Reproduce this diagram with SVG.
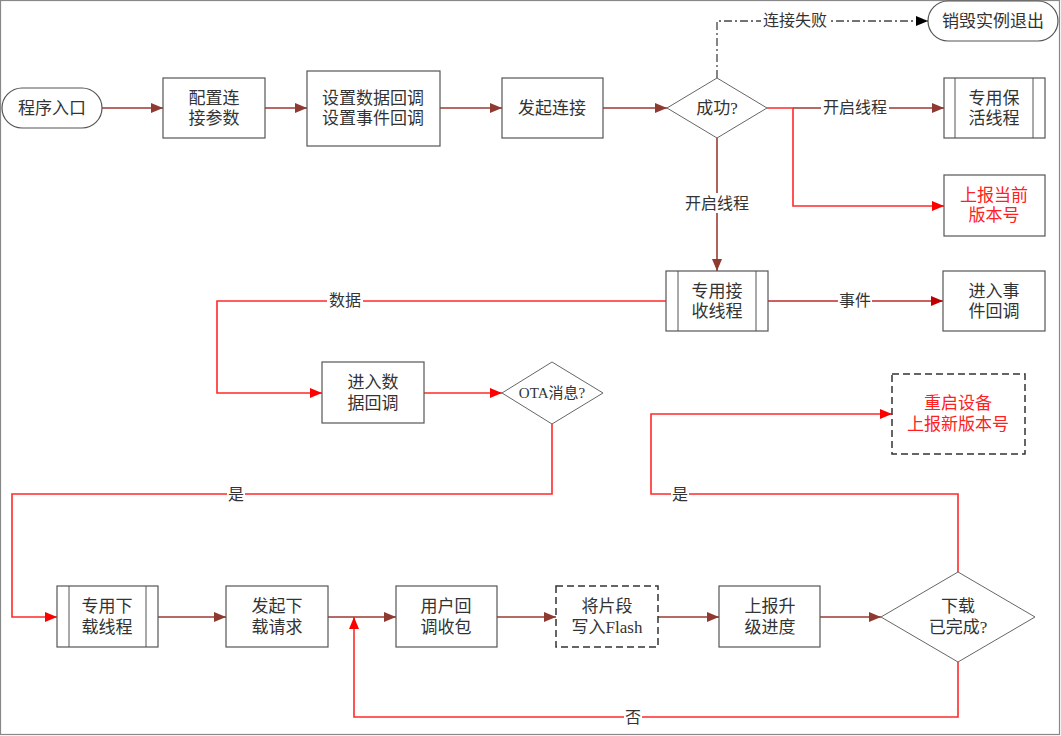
<svg xmlns="http://www.w3.org/2000/svg" width="1061" height="736" viewBox="0 0 1061 736">
<defs>
<style>
.n{fill:#fff;stroke:#555;stroke-width:1.2}
.d{fill:#fff;stroke:#333;stroke-width:1.5;stroke-dasharray:7 4}
.dia{fill:#fff;stroke:#666;stroke-width:1}
.t{font-family:"Liberation Serif","Noto Sans CJK SC",serif;font-size:17px;fill:#333;text-anchor:middle;dominant-baseline:central}
.r{fill:#ff2020}
.lb{font-family:"Liberation Serif","Noto Sans CJK SC",serif;font-size:16px;fill:#333;text-anchor:middle;dominant-baseline:central}
.br{fill:none;stroke:#9b3a33;stroke-width:1.6}
.rd{fill:none;stroke:#ff2a2a;stroke-width:1.6}
.dk{fill:none;stroke:#c0282a;stroke-width:1.6}
.dd{fill:none;stroke:#444;stroke-width:1.3;stroke-dasharray:8 3 2 3}
.bg{fill:#fff}
</style>
<marker id="ab" viewBox="0 0 12 10" refX="12" refY="5" markerWidth="12" markerHeight="10" markerUnits="userSpaceOnUse" orient="auto"><path d="M0,0 L12,5 L0,10 z" fill="#8e3a30"/></marker>
<marker id="ar" viewBox="0 0 12 10" refX="12" refY="5" markerWidth="12" markerHeight="10" markerUnits="userSpaceOnUse" orient="auto"><path d="M0,0 L12,5 L0,10 z" fill="#ff0000"/></marker>
<marker id="ak" viewBox="0 0 12 10" refX="12" refY="5" markerWidth="12" markerHeight="10" markerUnits="userSpaceOnUse" orient="auto"><path d="M0,0 L12,5 L0,10 z" fill="#c00000"/></marker>
<marker id="abk" viewBox="0 0 12 10" refX="12" refY="5" markerWidth="12" markerHeight="10" markerUnits="userSpaceOnUse" orient="auto"><path d="M0,0 L12,5 L0,10 z" fill="#000"/></marker>
</defs>
<rect x="0.5" y="0.5" width="1059" height="734" fill="#fff" stroke="#888" stroke-width="1.2"/>

<g id="connectors">
<path class="br" d="M102,108 H163" marker-end="url(#ab)"/>
<path class="br" d="M265,108 H307" marker-end="url(#ab)"/>
<path class="br" d="M440,108 H502" marker-end="url(#ab)"/>
<path class="br" d="M603,108 H667" marker-end="url(#ab)"/>
<path class="dd" d="M717,78 V21 H928" marker-end="url(#abk)"/>
<path class="br" d="M793,108 H944" marker-end="url(#ab)"/>
<path class="rd" d="M767,108 H793 V206 H944" marker-end="url(#ar)"/>
<path class="br" d="M717,138 V271" marker-end="url(#ab)"/>
<path class="dk" d="M768,301 H943" marker-end="url(#ak)"/>
<path class="rd" d="M666,301 H217 V393 H322" marker-end="url(#ar)"/>
<path class="rd" d="M424,393 H502" marker-end="url(#ar)"/>
<path class="rd" d="M552,424 V494 H12 V617 H57" marker-end="url(#ar)"/>
<path class="br" d="M158,617 H226" marker-end="url(#ab)"/>
<path class="br" d="M328,617 H396" marker-end="url(#ab)"/>
<path class="br" d="M497,617 H556" marker-end="url(#ab)"/>
<path class="br" d="M658,617 H719" marker-end="url(#ab)"/>
<path class="br" d="M820,617 H881" marker-end="url(#ab)"/>
<path class="rd" d="M958,572 V494 H651 V414 H892" marker-end="url(#ar)"/>
<path class="rd" d="M958,662 V717 H354 V617" marker-end="url(#ar)"/>
<rect class="bg" x="761" y="11" width="68" height="20"/>
<text class="lb" x="795" y="20">连接失败</text>
<rect class="bg" x="821" y="98" width="68" height="20"/>
<text class="lb" x="855" y="107">开启线程</text>
<rect class="bg" x="683" y="193" width="68" height="20"/>
<text class="lb" x="717" y="203">开启线程</text>
<rect class="bg" x="838" y="291" width="34" height="20"/>
<text class="lb" x="855" y="300">事件</text>
<rect class="bg" x="327" y="291" width="36" height="20"/>
<text class="lb" x="345" y="300">数据</text>
<rect class="bg" x="227" y="484" width="18" height="20"/>
<text class="lb" x="236" y="494">是</text>
<rect class="bg" x="671" y="484" width="18" height="20"/>
<text class="lb" x="680" y="494">是</text>
<rect class="bg" x="624" y="707" width="18" height="20"/>
<text class="lb" x="633" y="717">否</text>
</g>

<g id="start"><rect class="n" x="2" y="88" width="100" height="40" rx="20"/><text class="t" x="52" y="108">程序入口</text></g>
<g id="config"><rect class="n" x="163" y="78" width="102" height="60"/><text class="t" x="214" y="98">配置连</text><text class="t" x="214" y="118">接参数</text></g>
<g id="setcb"><rect class="n" x="307" y="71" width="133" height="75"/><text class="t" x="373" y="98">设置数据回调</text><text class="t" x="373" y="118">设置事件回调</text></g>
<g id="connect"><rect class="n" x="502" y="78" width="101" height="60"/><text class="t" x="552" y="108">发起连接</text></g>
<g id="success"><path class="dia" d="M667,108 L717,78 L767,108 L717,138 Z"/><text class="t" x="717" y="108">成功?</text></g>
<g id="destroy"><rect class="n" x="928" y="1" width="130" height="40" rx="20"/><text class="t" x="993" y="21">销毁实例退出</text></g>
<g id="keepalive"><rect class="n" x="944" y="78" width="101" height="60"/><line x1="955" y1="78" x2="955" y2="138" stroke="#555"/><line x1="1033" y1="78" x2="1033" y2="138" stroke="#555"/><text class="t" x="994" y="98">专用保</text><text class="t" x="994" y="118">活线程</text></g>
<g id="reportver"><rect class="n" x="944" y="175" width="101" height="61"/><text class="t r" x="994" y="195">上报当前</text><text class="t r" x="994" y="215">版本号</text></g>
<g id="recvthread"><rect class="n" x="666" y="271" width="102" height="60"/><line x1="678" y1="271" x2="678" y2="331" stroke="#555"/><line x1="756" y1="271" x2="756" y2="331" stroke="#555"/><text class="t" x="717" y="291">专用接</text><text class="t" x="717" y="311">收线程</text></g>
<g id="eventcb"><rect class="n" x="943" y="271" width="102" height="60"/><text class="t" x="994" y="291">进入事</text><text class="t" x="994" y="311">件回调</text></g>
<g id="datacb"><rect class="n" x="322" y="362" width="102" height="61"/><text class="t" x="373" y="382">进入数</text><text class="t" x="373" y="403">据回调</text></g>
<g id="ota"><path class="dia" d="M502,393 L552,362 L603,393 L552,424 Z"/><text class="t" x="552" y="393" style="font-size:15px">OTA消息?</text></g>
<g id="reboot"><rect class="d" x="892" y="374" width="133" height="80"/><text class="t r" x="958" y="403">重启设备</text><text class="t r" x="958" y="424">上报新版本号</text></g>
<g id="dlthread"><rect class="n" x="57" y="586" width="101" height="61"/><line x1="69" y1="586" x2="69" y2="647" stroke="#555"/><line x1="146" y1="586" x2="146" y2="647" stroke="#555"/><text class="t" x="107" y="606">专用下</text><text class="t" x="107" y="627">载线程</text></g>
<g id="dlreq"><rect class="n" x="226" y="586" width="102" height="61"/><text class="t" x="277" y="606">发起下</text><text class="t" x="277" y="627">载请求</text></g>
<g id="usercb"><rect class="n" x="396" y="586" width="101" height="61"/><text class="t" x="446" y="606">用户回</text><text class="t" x="446" y="627">调收包</text></g>
<g id="flash"><rect class="d" x="556" y="586" width="102" height="61"/><text class="t" x="607" y="606">将片段</text><text class="t" x="607" y="627">写入Flash</text></g>
<g id="progress"><rect class="n" x="719" y="586" width="101" height="61"/><text class="t" x="770" y="606">上报升</text><text class="t" x="770" y="627">级进度</text></g>
<g id="done"><path class="dia" d="M881,617 L958,572 L1035,617 L958,662 Z"/><text class="t" x="958" y="606">下载</text><text class="t" x="958" y="627">已完成?</text></g>
</svg>
